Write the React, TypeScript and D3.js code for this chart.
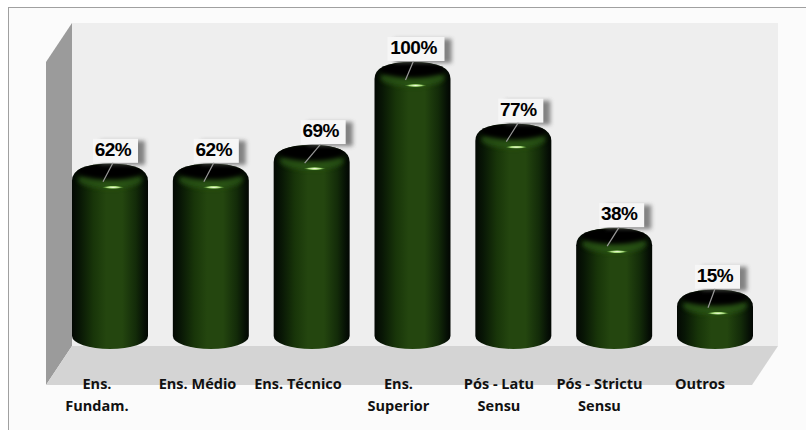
import React from "react";
import * as d3 from "d3";

const categories = ["Ens. Fundam.", "Ens. Médio", "Ens. Técnico", "Ens. Superior", "Pós - Latu Sensu", "Pós - Strictu Sensu", "Outros"];
const axisLines = [["Ens.", "Fundam."], ["Ens. Médio"], ["Ens. Técnico"], ["Ens.", "Superior"], ["Pós - Latu", "Sensu"], ["Pós - Strictu", "Sensu"], ["Outros"]];
const values = [62, 62, 69, 100, 77, 38, 15];
const labelNudge = [3, 3, 9, 1, 5, 5, 0];

const W = 806;
const H = 430;
const wall = { left: 72, right: 778, top: 23, bottom: 346 };
const floorDepth = { dx: 26, dy: 39 };
const baseY = 336;
const rx = 38;
const ry = 13;

const x = d3.scalePoint<string>().domain(categories).range([110, 715]);
const tickX = d3.scalePoint<string>().domain(categories).range([97, 700]);
const y = d3.scaleLinear().domain([0, 100]).range([343, 75]);
const poly = d3.line();

export default function App() {
  const { left, right, top, bottom } = wall;
  const { dx, dy } = floorDepth;
  return (
    <svg width={W} height={H} style={{ position: "absolute", left: 0, top: 0, background: "#fff" }}>
      <defs>
        <linearGradient id="side" x1="0" x2="1" y1="0" y2="0">
          <stop offset="0" stopColor="#030803" />
          <stop offset="0.1" stopColor="#081605" />
          <stop offset="0.28" stopColor="#183509" />
          <stop offset="0.45" stopColor="#24460f" />
          <stop offset="0.66" stopColor="#24460f" />
          <stop offset="0.84" stopColor="#132b09" />
          <stop offset="0.95" stopColor="#061005" />
          <stop offset="1" stopColor="#020602" />
        </linearGradient>
        <radialGradient id="glint">
          <stop offset="0" stopColor="#f2fce0" />
          <stop offset="0.55" stopColor="#a6da78" />
          <stop offset="1" stopColor="#4c8a2a" stopOpacity="0" />
        </radialGradient>
        <filter id="soft" x="-30%" y="-50%" width="160%" height="200%">
          <feGaussianBlur stdDeviation="2" />
        </filter>
        <filter id="shadow" x="-30%" y="-30%" width="160%" height="160%">
          <feGaussianBlur stdDeviation="2.2" />
        </filter>
      </defs>

      {/* outer panel */}
      <rect x={8.5} y={7.5} width={W} height={H} fill="#fbfbfb" stroke="#a0a0a0" />

      {/* 3D chart box */}
      <rect x={left} y={top} width={right - left} height={bottom - top} fill="#eeeeee" />
      <path d={poly([[left - dx, top + dy], [left, top], [left, bottom], [left - dx, bottom + dy]])! + "Z"} fill="#9b9b9b" />
      <path d={poly([[left, bottom], [right, bottom], [right - dx, bottom + dy], [left - dx, bottom + dy]])! + "Z"} fill="#d4d4d4" />

      {/* cylinders */}
      {categories.map((c, i) => {
        const cx = x(c)!;
        const cy = y(values[i]);
        const clipId = `body-${i}`;
        const body = `M${cx - rx},${cy + 4} Q${cx - rx},${cy - ry} ${cx},${cy - ry} Q${cx + rx},${cy - ry} ${cx + rx},${cy + 4} L${cx + rx},${baseY} A${rx},${ry} 0 0 1 ${cx - rx},${baseY} Z`;
        return (
          <g key={c}>
            <clipPath id={clipId}><path d={body} /></clipPath>
            <path d={body} fill="url(#side)" />
            <g clipPath={`url(#${clipId})`}>
              <ellipse cx={cx} cy={cy + 3} rx={32} ry={9} fill="#2c5716" opacity={0.75} filter="url(#soft)" />
              <ellipse cx={cx} cy={cy - 6} rx={34} ry={9} fill="#010501" filter="url(#soft)" />
            </g>
            <ellipse cx={cx + 3} cy={cy + 10.5} rx={11} ry={1.7} fill="url(#glint)" />
          </g>
        );
      })}

      {/* value labels with leader lines */}
      {categories.map((c, i) => {
        const cx = x(c)!;
        const cy = y(values[i]);
        const labelX = cx + labelNudge[i];
        const baseline = cy - 21;
        const boxW = values[i] === 100 ? 57 : 45;
        const boxX = labelX - boxW / 2 + 2.5;
        return (
          <g key={c}>
            <rect x={boxX + 7} y={baseline - 15} width={boxW} height={24} fill="#555" opacity={0.7} filter="url(#shadow)" />
            <rect x={boxX} y={baseline - 17} width={boxW} height={24} fill="#f6f6f6" />
            <line x1={labelX} y1={baseline + 7} x2={cx - 7} y2={cy + 5} stroke="#9a9a9a" strokeWidth={1.2} />
            <text x={labelX} y={baseline} textAnchor="middle" fontFamily="'Liberation Sans', Arial, sans-serif" fontWeight={700} fontSize={19} letterSpacing={-0.5} fill="#000">
              {values[i]}%
            </text>
          </g>
        );
      })}

      {/* category labels */}
      {categories.map((c, i) => (
        <text key={c} textAnchor="middle" fontFamily="'Open Sans', sans-serif" fontWeight={700} fontSize={14.5} fill="#111">
          {axisLines[i].map((t, k) => (
            <tspan key={t} x={tickX(c)!} y={389 + k * 22}>{t}</tspan>
          ))}
        </text>
      ))}
    </svg>
  );
}
